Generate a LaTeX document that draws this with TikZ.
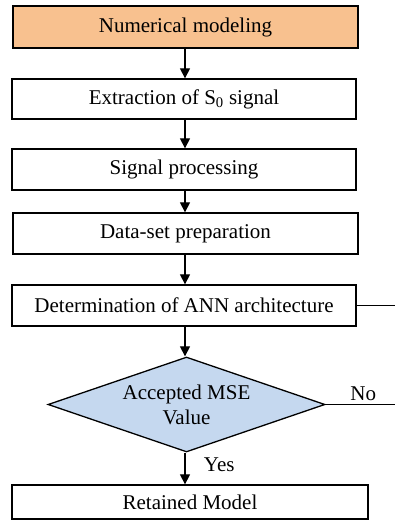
\documentclass[tikz,border=0pt]{standalone}
\usepackage{fontspec}
\setmainfont{Liberation Serif}
\usetikzlibrary{shapes.geometric,arrows.meta,calc}

\definecolor{modelOrange}{RGB}{248,193,143}
\definecolor{testBlue}{RGB}{197,216,239}

\begin{document}
\begin{tikzpicture}[x=1pt,y=1pt,line width=1.3pt,>={Triangle[width=10pt,length=10pt]},
  box/.style={draw,rectangle,inner sep=0pt,font=\fontsize{21}{25}\selectfont}]
  % \draw[step=10,thin,gray!40] (0,0) grid (395,522);
  \useasboundingbox (0,0) rectangle (395,522);

  \node[box, fill=modelOrange, minimum width=345pt, minimum height=42pt] (modelNode) at (185.5,495) {Numerical modeling};
  \node[box, minimum width=344pt, minimum height=40pt] (extractNode) at (184,423) {Extraction of S\textsubscript{0} signal};
  \node[box, minimum width=344pt, minimum height=41pt] (signalNode) at (184,352.5) {Signal processing};
  \node[box, minimum width=345pt, minimum height=41pt] (dataNode) at (185.5,288.5) {Data-set preparation};
  \node[box, minimum width=344pt, minimum height=41pt] (annNode) at (184,216.5) {Determination of ANN architecture};
  \node[draw, diamond, fill=testBlue, aspect=2.9, inner sep=0pt, minimum width=277pt, minimum height=95pt,
        align=center, font=\fontsize{21}{25}\selectfont] (mseNode) at (186.5,117.5) {Accepted MSE\\Value};
  \node[box, minimum width=356pt, minimum height=34pt] (retainNode) at (190,20) {Retained Model};

  \coordinate (annEnd) at (395,216.5);
  \coordinate (noEnd) at (395,117.5);

  \draw [->]  (modelNode.south -| 185,0) -- (extractNode.north -| 185,0);
  \draw [->]  (extractNode.south -| 185,0) -- (signalNode.north -| 185,0);
  \draw [->]  (signalNode.south -| 185,0) -- (dataNode.north -| 185,0);
  \draw [->]  (dataNode.south -| 185,0) -- (annNode.north -| 185,0);
  \draw [->]  (annNode.south -| 185,0) -- (mseNode.north -| 185,0);
  \draw [->]  (mseNode.south -| 185,0) -- (retainNode.north -| 185,0) node[midway,right,xshift=15pt,yshift=4pt,font=\fontsize{21}{25}\selectfont] {Yes};

  \draw (annNode.east) -- (annEnd);
  \draw (mseNode.east) -- (noEnd) node[pos=0.5,above,xshift=3pt,font=\fontsize{21}{25}\selectfont] {No};
\end{tikzpicture}
\end{document}
